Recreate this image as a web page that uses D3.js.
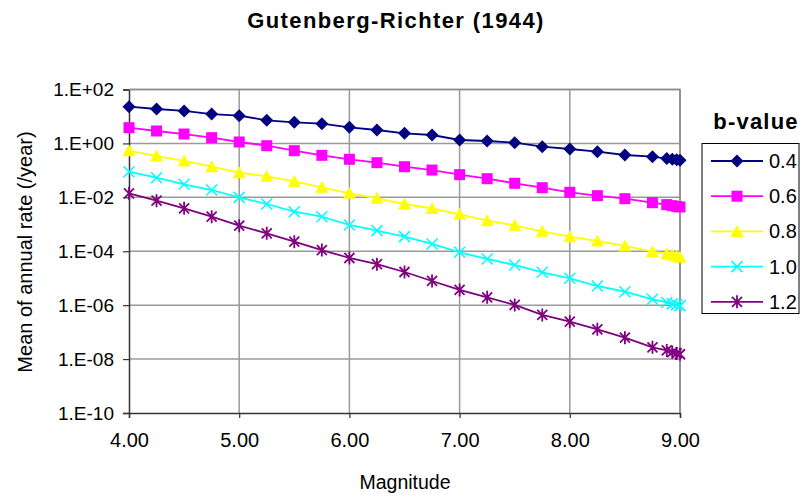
<!DOCTYPE html>
<html><head><meta charset="utf-8">
<script src="https://cdn.jsdelivr.net/npm/d3@7"></script>
<style>body{margin:0;background:#fff;}svg{display:block;font-family:"Liberation Sans",Arial,sans-serif;}</style>
</head><body>
<script>
const magnitudes = [4.00,4.25,4.50,4.75,5.00,5.25,5.50,5.75,6.00,6.25,6.50,6.75,7.00,7.25,7.50,7.75,8.00,8.25,8.50,8.75,8.88,8.93,8.97,9.00];
const bValues = ["0.4","0.6","0.8","1.0","1.2"];
const rateB04 = [23.0,18.9,16.0,12.3,10.7,7.21,6.07,5.38,3.96,3.15,2.37,2.05,1.34,1.23,1.06,0.755,0.621,0.493,0.372,0.321,0.275,0.260,0.248,0.237];
const rateB06 = [3.83,2.89,2.23,1.63,1.13,0.822,0.537,0.362,0.258,0.193,0.137,0.103,0.0692,0.0491,0.0332,0.0228,0.0154,0.0115,0.00891,0.00632,0.00537,0.00490,0.00457,0.00439];
const rateB08 = [0.537,0.341,0.223,0.137,0.0820,0.0603,0.0394,0.0236,0.0141,0.00920,0.00566,0.00385,0.00235,0.00136,9.18e-4,5.50e-4,3.47e-4,2.40e-4,1.57e-4,9.64e-5,7.94e-5,7.24e-5,6.46e-5,5.97e-5];
const rateB10 = [0.0893,0.0535,0.0305,0.0187,0.0100,0.00566,0.00293,0.00191,9.42e-4,5.79e-4,3.47e-4,1.86e-4,9.14e-5,5.16e-5,3.09e-5,1.66e-5,9.93e-6,5.14e-6,3.16e-6,1.65e-6,1.26e-6,1.12e-6,1.02e-6,9.57e-7];
const rateB12 = [0.0141,0.00750,0.00393,0.00191,8.87e-4,4.63e-4,2.26e-4,1.11e-4,5.62e-5,3.31e-5,1.70e-5,7.89e-6,3.66e-6,1.96e-6,1.02e-6,4.33e-7,2.44e-7,1.27e-7,6.22e-8,2.74e-8,2.09e-8,1.82e-8,1.62e-8,1.51e-8];
const yTickValues = [1e2,1e0,1e-2,1e-4,1e-6,1e-8,1e-10];
const yTickLabels = ["1.E+02","1.E+00","1.E-02","1.E-04","1.E-06","1.E-08","1.E-10"];
const xTickValues = [4,5,6,7,8,9];
const xTickLabels = ["4.00","5.00","6.00","7.00","8.00","9.00"];

const series = [
  {name: bValues[0], values: rateB04, color: "#000080", marker: "diamond"},
  {name: bValues[1], values: rateB06, color: "#FF00FF", marker: "square"},
  {name: bValues[2], values: rateB08, color: "#FFFF00", marker: "triangle"},
  {name: bValues[3], values: rateB10, color: "#00FFFF", marker: "x"},
  {name: bValues[4], values: rateB12, color: "#800080", marker: "star"}
];

const W = 802, H = 498;
const L = 129, R = 680, T = 89.5, B = 413;
const svg = d3.select("body").append("svg").attr("width", W).attr("height", H);

const x = d3.scaleLinear().domain([4, 9]).range([L, R]);
const y = d3.scaleLog().domain([1e-10, 1e2]).range([B, T]);

// gridlines
const grid = svg.append("g");
grid.selectAll("line.h").data(yTickValues.filter(v => v > 1e-10)).enter().append("line")
  .attr("x1", L).attr("x2", R).attr("y1", d => y(d)).attr("y2", d => y(d))
  .attr("stroke", "#9a9a9a").attr("stroke-width", 1.5);
grid.selectAll("line.v").data(xTickValues.filter(v => v > 4)).enter().append("line")
  .attr("x1", d => x(d)).attr("x2", d => x(d)).attr("y1", T).attr("y2", B)
  .attr("stroke", "#9a9a9a").attr("stroke-width", 1.5);

// axes
const xAxis = d3.axisBottom(x).tickValues(xTickValues).tickSize(5).tickPadding(15)
  .tickFormat((d, i) => xTickLabels[i]);
const gx = svg.append("g").attr("transform", `translate(0,${B})`).call(xAxis);
gx.select(".domain").attr("stroke", "#333").attr("stroke-width", 1.5);
gx.selectAll(".tick line").attr("stroke", "#333").attr("stroke-width", 1.2);
gx.selectAll("text").attr("font-size", 20).attr("fill", "#000").attr("font-family", "Liberation Sans, Arial, sans-serif");

const yAxis = d3.axisLeft(y).tickValues(yTickValues).tickSize(6).tickPadding(9)
  .tickFormat((d, i) => yTickLabels[i]);
const gy = svg.append("g").attr("transform", `translate(${L},0)`).call(yAxis);
gy.select(".domain").attr("stroke", "#333").attr("stroke-width", 1.5);
gy.selectAll(".tick line").attr("stroke", "#333").attr("stroke-width", 1.2);
gy.selectAll("text").attr("font-size", 19).attr("fill", "#000").attr("font-family", "Liberation Sans, Arial, sans-serif");

// top and right border of plot area
svg.append("path").attr("d", `M${L},${T}H${R}V${B}`).attr("fill", "none")
  .attr("stroke", "#8a8a8a").attr("stroke-width", 1.5);

// marker drawing
function drawMarker(g, type, color) {
  if (type === "diamond") {
    g.append("path").attr("d", "M0,-6.5L6.5,0L0,6.5L-6.5,0Z").attr("fill", color);
  } else if (type === "square") {
    g.append("rect").attr("x", -5.5).attr("y", -5.5).attr("width", 11).attr("height", 11).attr("fill", color);
  } else if (type === "triangle") {
    g.append("path").attr("d", "M0,-6.5L6.5,5.5L-6.5,5.5Z").attr("fill", color);
  } else if (type === "x") {
    g.append("path").attr("d", "M-5.5,-5.5L5.5,5.5M-5.5,5.5L5.5,-5.5").attr("stroke", color).attr("stroke-width", 1.6).attr("fill", "none");
  } else if (type === "star") {
    g.append("path").attr("d", "M-5,-5L5,5M-5,5L5,-5M0,-6.5L0,6.5").attr("stroke", color).attr("stroke-width", 1.8).attr("fill", "none");
  }
}

const line = d3.line().x((d, i) => x(magnitudes[i])).y(d => y(d));
const plot = svg.append("g");
series.forEach(s => {
  plot.append("path").datum(s.values).attr("d", line)
    .attr("fill", "none").attr("stroke", s.color).attr("stroke-width", 1.8);
});
series.forEach(s => {
  s.values.forEach((v, i) => {
    const g = plot.append("g").attr("transform", `translate(${x(magnitudes[i])},${y(v)})`);
    drawMarker(g, s.marker, s.color);
  });
});

// title
svg.append("text").attr("x", 396).attr("y", 28).attr("text-anchor", "middle")
  .attr("font-size", 22).attr("font-weight", "bold").attr("letter-spacing", 1.4)
  .text("Gutenberg-Richter (1944)");

// axis titles
svg.append("text").attr("x", 405).attr("y", 489).attr("text-anchor", "middle")
  .attr("font-size", 19.5).text("Magnitude");
svg.append("text").attr("transform", `translate(32,252) rotate(-90)`).attr("text-anchor", "middle")
  .attr("font-size", 20).text("Mean of annual rate (/year)");

// legend
const lg = svg.append("g");
lg.append("text").attr("x", 756).attr("y", 129).attr("text-anchor", "middle")
  .attr("font-size", 22).attr("font-weight", "bold").attr("letter-spacing", 1.2).text("b-value");
lg.append("rect").attr("x", 702).attr("y", 143.5).attr("width", 97).attr("height", 170)
  .attr("fill", "#fff").attr("stroke", "#000").attr("stroke-width", 1);
series.forEach((s, i) => {
  const cy = 161 + i * 35.2;
  lg.append("line").attr("x1", 711).attr("x2", 763).attr("y1", cy).attr("y2", cy)
    .attr("stroke", s.color).attr("stroke-width", 1.8);
  const g = lg.append("g").attr("transform", `translate(737,${cy})`);
  drawMarker(g, s.marker, s.color);
  lg.append("text").attr("x", 769).attr("y", cy + 7).attr("font-size", 20).text(s.name);
});
</script>
</body></html>
